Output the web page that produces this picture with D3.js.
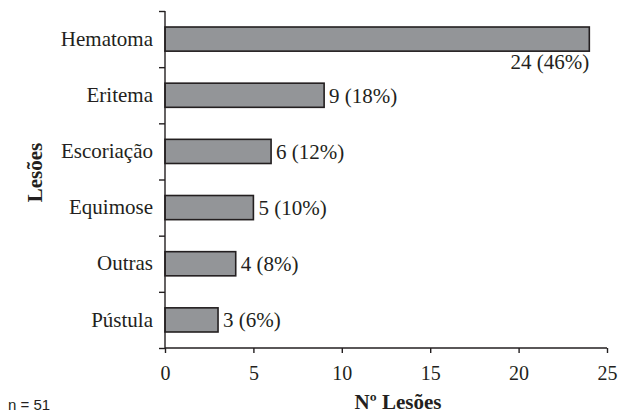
<!DOCTYPE html>
<html>
<head>
<meta charset="utf-8">
<script src="https://cdn.jsdelivr.net/npm/d3@7"></script>
<style>
  html, body { margin: 0; padding: 0; background: #fff; }
  svg { display: block; }
  text { fill: #231f20; }
</style>
</head>
<body>
<svg id="chart" width="618" height="416"></svg>
<script>
// Lesion types (top to bottom), counts and share of total
const categories = ["Hematoma", "Eritema", "Escoriação", "Equimose", "Outras", "Pústula"];
const counts = [24, 9, 6, 5, 4, 3];
const percents = [46, 18, 12, 10, 8, 6];
const xTicks = [0, 5, 10, 15, 20, 25];
const sampleNote = "n = 51";

const svg = d3.select("#chart");
const plotLeft = 165, plotRight = 607, plotTop = 11, plotBottom = 348;
const ink = "#231f20";
const serif = "Liberation Serif, Times New Roman, DejaVu Serif";

const x = d3.scaleLinear().domain([0, 25]).range([plotLeft, plotRight]);
const y = d3.scaleBand().domain(categories).range([plotTop, plotBottom])
  .paddingInner(0.57).paddingOuter(0.285);
// boundaries between category slots, for the y-axis tick marks
const yEdge = d3.scaleLinear().domain([0, categories.length]).range([plotTop, plotBottom]);

const rows = categories.map((c, i) => ({ cat: c, n: counts[i], pct: percents[i] }));

// bars
svg.append("g").selectAll("rect").data(rows).join("rect")
  .attr("x", x(0))
  .attr("y", d => y(d.cat))
  .attr("width", d => x(d.n) - x(0))
  .attr("height", y.bandwidth())
  .attr("fill", "#939598")
  .attr("stroke", ink)
  .attr("stroke-width", 1.6);

// x axis
const xAxis = svg.append("g")
  .attr("transform", `translate(0,${plotBottom})`)
  .call(d3.axisBottom(x).tickValues(xTicks).tickSize(5).tickPadding(13).tickFormat(d3.format("d")));
xAxis.attr("font-family", null).attr("font-size", null);
xAxis.select(".domain").attr("stroke", ink).attr("stroke-width", 1.4).attr("d", `M${plotLeft},0H${plotRight}`);
xAxis.selectAll(".tick line").attr("stroke", ink).attr("stroke-width", 1.4);
xAxis.selectAll(".tick text").style("font-family", serif).style("font-size", "20px").attr("fill", ink);

// y axis: boundary ticks
const yAxis = svg.append("g")
  .attr("transform", `translate(${plotLeft},0)`)
  .call(d3.axisLeft(yEdge).tickValues(d3.range(categories.length + 1)).tickSize(6).tickFormat(""));
yAxis.select(".domain").attr("stroke", ink).attr("stroke-width", 1.4).attr("d", `M0,${plotTop}V${plotBottom}`);
yAxis.selectAll(".tick line").attr("stroke", ink).attr("stroke-width", 1.4);

// y axis: category labels
const yLabels = svg.append("g")
  .attr("transform", `translate(${plotLeft},0)`)
  .call(d3.axisLeft(y).tickSize(0).tickPadding(12));
yLabels.attr("font-family", null).attr("font-size", null);
yLabels.select(".domain").remove();
yLabels.selectAll(".tick text").style("font-family", serif).style("font-size", "21px").attr("fill", ink);

// value labels
svg.append("g").selectAll("text").data(rows).join("text")
  .style("font-family", serif)
  .style("font-size", "21px")
  .attr("x", (d, i) => i === 0 ? x(d.n) : x(d.n) + 5)
  .attr("y", (d, i) => i === 0 ? y(d.cat) + y.bandwidth() + 18 : y(d.cat) + y.bandwidth() / 2)
  .attr("dy", (d, i) => i === 0 ? 0 : "0.35em")
  .attr("text-anchor", (d, i) => i === 0 ? "end" : "start")
  .text(d => `${d.n} (${d.pct}%)`);

// axis titles
svg.append("text")
  .attr("x", 398)
  .attr("y", 409)
  .attr("text-anchor", "middle")
  .style("font-family", serif)
  .style("font-weight", "bold")
  .style("font-size", "21px")
  .text("Nº Lesões");

svg.append("text")
  .attr("transform", `translate(42,${(plotTop + plotBottom) / 2 - 7}) rotate(-90)`)
  .attr("text-anchor", "middle")
  .style("font-family", serif)
  .style("font-weight", "bold")
  .style("font-size", "21px")
  .text("Lesões");

// sample size note
svg.append("text")
  .attr("x", 8)
  .attr("y", 410)
  .style("font-family", "Liberation Sans, Arial, sans-serif")
  .style("font-size", "15px")
  .text(sampleNote);
</script>
</body>
</html>
